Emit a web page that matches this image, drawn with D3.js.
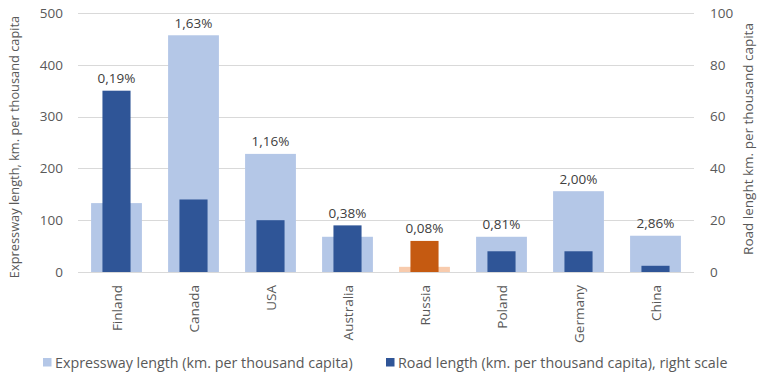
<!DOCTYPE html>
<html>
<head>
<meta charset="utf-8">
<script src="https://cdn.jsdelivr.net/npm/d3@7/dist/d3.min.js"></script>
<style>
  body { margin: 0; background: #fff; }
  text { font-family: "Open Sans", sans-serif; }
</style>
</head>
<body>
<div id="chart"></div>
<script>
const w = 764;
const h = 385;

const countries = ['Finland', 'Canada', 'USA', 'Australia', 'Russia', 'Poland', 'Germany', 'China'];
const expressway = [133, 457, 228, 68, 10, 68, 156, 70];
const road = [70, 28, 20, 18, 12, 8, 8, 2.4];
const shares = ['0,19%', '1,63%', '1,16%', '0,38%', '0,08%', '0,81%', '2,00%', '2,86%'];
const leftTicks = [0, 100, 200, 300, 400, 500];
const rightTicks = [0, 20, 40, 60, 80, 100];

const plotTop = 13, plotBottom = 272, plotLeft = 78, plotRight = 694;

const x = d3.scaleBand().domain(countries).range([plotLeft, plotRight]);
const yL = d3.scaleLinear().domain([0, 500]).range([plotBottom, plotTop]);
const yR = d3.scaleLinear().domain([0, 100]).range([plotBottom, plotTop]);

const lightCol = c => c === 'Russia' ? '#f8cbad' : '#b4c7e7';
const darkCol = c => c === 'Russia' ? '#c55a11' : '#2f5597';

const svg = d3.select('#chart')
  .append('svg')
  .attr('width', w)
  .attr('height', h);

// gridlines
svg.append('g')
  .selectAll('line')
  .data(leftTicks)
  .enter()
  .append('line')
  .attr('x1', plotLeft)
  .attr('x2', plotRight)
  .attr('y1', d => Math.round(yL(d)) + 0.5)
  .attr('y2', d => Math.round(yL(d)) + 0.5)
  .attr('stroke', '#d9d9d9')
  .attr('stroke-width', 1);

// expressway bars (wide, light)
const lightW = x.bandwidth() * 0.66;
svg.append('g')
  .selectAll('rect')
  .data(countries)
  .enter()
  .append('rect')
  .attr('x', d => x(d) + (x.bandwidth() - lightW) / 2)
  .attr('y', (d, i) => yL(expressway[i]))
  .attr('width', lightW)
  .attr('height', (d, i) => plotBottom - yL(expressway[i]))
  .attr('fill', lightCol);

// road bars (narrow, dark, right scale)
const darkW = x.bandwidth() * 0.365;
svg.append('g')
  .selectAll('rect')
  .data(countries)
  .enter()
  .append('rect')
  .attr('x', d => x(d) + (x.bandwidth() - darkW) / 2)
  .attr('y', (d, i) => yR(road[i]))
  .attr('width', darkW)
  .attr('height', (d, i) => plotBottom - yR(road[i]))
  .attr('fill', darkCol);

// baseline
svg.append('line')
  .attr('x1', plotLeft).attr('x2', plotRight)
  .attr('y1', plotBottom + 0.5).attr('y2', plotBottom + 0.5)
  .attr('stroke', '#d9d9d9');

// data labels above the taller bar
svg.append('g')
  .selectAll('text')
  .data(countries)
  .enter()
  .append('text')
  .attr('x', d => x(d) + x.bandwidth() / 2)
  .attr('y', (d, i) => Math.min(yL(expressway[i]), yR(road[i])) - 7.5)
  .attr('text-anchor', 'middle')
  .attr('font-size', 13.5)
  .attr('fill', '#404040')
  .text((d, i) => shares[i]);

// left axis
const leftAxis = d3.axisLeft(yL).tickValues(leftTicks).tickSize(0).tickPadding(0);
svg.append('g')
  .attr('transform', 'translate(63,0)')
  .call(leftAxis)
  .call(g => g.select('.domain').remove())
  .selectAll('text')
  .attr('font-size', 13.5)
  .attr('font-family', '"Open Sans", sans-serif')
  .attr('fill', '#595959');

// right axis
const rightAxis = d3.axisRight(yR).tickValues(rightTicks).tickSize(0).tickPadding(0);
svg.append('g')
  .attr('transform', 'translate(710,0)')
  .call(rightAxis)
  .call(g => g.select('.domain').remove())
  .selectAll('text')
  .attr('font-size', 13.5)
  .attr('font-family', '"Open Sans", sans-serif')
  .attr('fill', '#595959');

// category labels, rotated
svg.append('g')
  .selectAll('text')
  .data(countries)
  .enter()
  .append('text')
  .attr('transform', d => 'translate(' + (x(d) + x.bandwidth() / 2 + 5) + ',285) rotate(-90)')
  .attr('text-anchor', 'end')
  .attr('font-size', 13.5)
  .attr('fill', '#595959')
  .text(d => d);

// axis titles
svg.append('text')
  .attr('transform', 'translate(19,147) rotate(-90)')
  .attr('text-anchor', 'middle')
  .attr('font-size', 12.8)
  .attr('fill', '#595959')
  .text('Expressway length, km. per thousand capita');

svg.append('text')
  .attr('transform', 'translate(753,139) rotate(-90)')
  .attr('text-anchor', 'middle')
  .attr('font-size', 13.5)
  .attr('fill', '#595959')
  .text('Road lenght km. per thousand capita');

// legend
const legend = [
  { label: 'Expressway length (km. per thousand capita)', color: '#b4c7e7', x: 43 },
  { label: 'Road length (km. per thousand capita), right scale', color: '#2f5597', x: 386 }
];
const lg = svg.append('g')
  .selectAll('g')
  .data(legend)
  .enter()
  .append('g')
  .attr('transform', d => 'translate(' + d.x + ',358)');
lg.append('rect')
  .attr('width', 8.5).attr('height', 8.5)
  .attr('fill', d => d.color);
lg.append('text')
  .attr('x', 12).attr('y', 9.5)
  .attr('font-size', 14.3)
  .attr('fill', '#595959')
  .text(d => d.label);
</script>
</body>
</html>
